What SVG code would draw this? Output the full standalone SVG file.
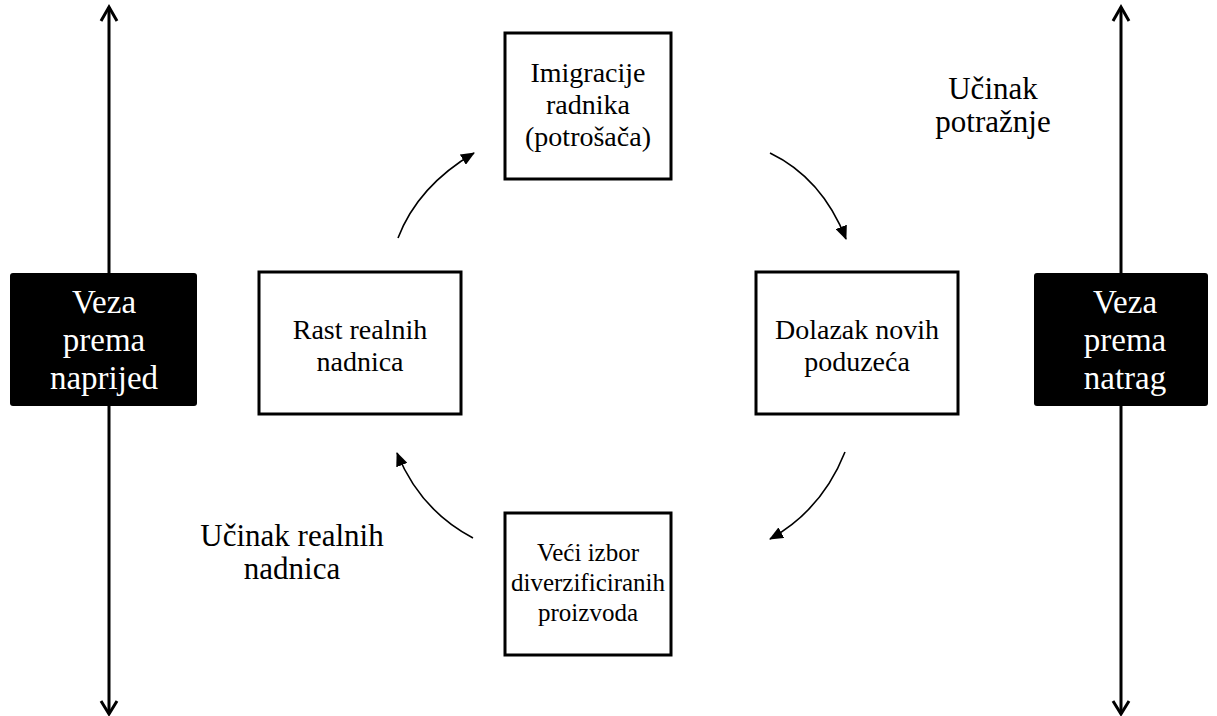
<svg xmlns="http://www.w3.org/2000/svg" width="1217" height="716" viewBox="0 0 1217 716">
<style>
.t{font-family:"Liberation Serif","Times New Roman",serif;font-size:28px;fill:#000;text-anchor:middle}
.s{font-family:"Liberation Serif","Times New Roman",serif;font-size:25px;fill:#000;text-anchor:middle}
.l{font-family:"Liberation Serif","Times New Roman",serif;font-size:31px;fill:#000;text-anchor:middle}
.w{font-family:"Liberation Serif","Times New Roman",serif;font-size:33px;fill:#fff;text-anchor:middle}
.box{fill:#fff;stroke:#000;stroke-width:3}
.dark{fill:#000}
.axis{fill:none;stroke:#000;stroke-width:3}
.cv{fill:none;stroke:#000;stroke-width:1.6;marker-end:url(#ah)}
</style>
<defs>
<marker id="ah" markerUnits="userSpaceOnUse" markerWidth="14" markerHeight="12" refX="13" refY="6" orient="auto">
<path d="M0,0 L14,6 L0,12 z" fill="#000"/>
</marker>
</defs>
<g id="connectors">
<path class="axis" d="M109,7 V714"/>
<path class="axis" d="M101,21 L109,7 L117,21"/>
<path class="axis" d="M101,701 L109,714 L117,701"/>
<path class="axis" d="M1121,7 V714"/>
<path class="axis" d="M1113,21 L1121,7 L1129,21"/>
<path class="axis" d="M1113,701 L1121,714 L1129,701"/>
<path class="cv" d="M398,238 Q418,186 474,153"/>
<path class="cv" d="M770,153 Q822,178 846,239"/>
<path class="cv" d="M845,452 Q822,510 770,539"/>
<path class="cv" d="M473,538 Q420,510 397,453"/>
</g>
<g id="forward">
<rect class="dark" x="10" y="273" width="187" height="133" rx="3"/>
<text class="w" x="104" y="313">Veza</text>
<text class="w" x="104" y="351">prema</text>
<text class="w" x="104" y="389">naprijed</text>
</g>
<g id="backward">
<rect class="dark" x="1034" y="273" width="174" height="133" rx="3"/>
<text class="w" x="1125" y="313">Veza</text>
<text class="w" x="1125" y="351">prema</text>
<text class="w" x="1125" y="389">natrag</text>
</g>
<g id="immigration">
<rect class="box" x="505" y="33" width="166" height="146"/>
<text class="t" x="588" y="82">Imigracije</text>
<text class="t" x="588" y="114">radnika</text>
<text class="t" x="588" y="146">(potrošača)</text>
</g>
<g id="wages">
<rect class="box" x="259" y="272" width="202" height="142"/>
<text class="t" x="360" y="339">Rast realnih</text>
<text class="t" x="360" y="371">nadnica</text>
</g>
<g id="firms">
<rect class="box" x="756" y="272" width="202" height="142"/>
<text class="t" x="857" y="339">Dolazak novih</text>
<text class="t" x="857" y="371">poduzeća</text>
</g>
<g id="products">
<rect class="box" x="505" y="513" width="166" height="142"/>
<text class="s" x="588" y="561">Veći izbor</text>
<text class="s" x="588" y="591">diverzificiranih</text>
<text class="s" x="588" y="621">proizvoda</text>
</g>
<g id="demand-label">
<text class="l" x="993" y="99">Učinak</text>
<text class="l" x="993" y="132">potražnje</text>
</g>
<g id="wage-label">
<text class="l" x="292" y="546">Učinak realnih</text>
<text class="l" x="292" y="579">nadnica</text>
</g>
</svg>
